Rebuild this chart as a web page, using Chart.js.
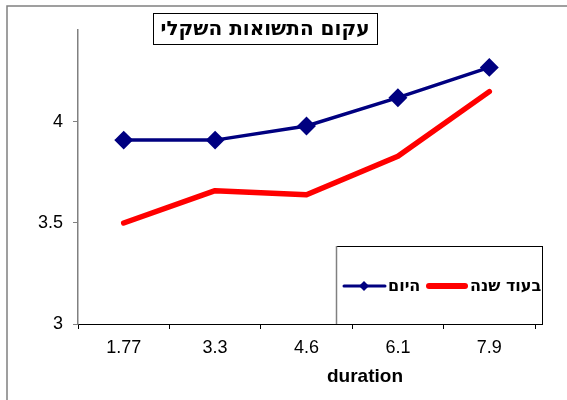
<!DOCTYPE html>
<html>
<head>
<meta charset="utf-8">
<script src="https://cdn.jsdelivr.net/npm/chart.js"></script>
<style>
  body { margin: 0; background: #fff; }
</style>
</head>
<body>
<canvas id="yieldChart" width="567" height="400"></canvas>
<script>
const categories = ["1.77", "3.3", "4.6", "6.1", "7.9"];
const todayValues = [3.91, 3.91, 3.98, 4.12, 4.27];
const nextYearValues = [3.50, 3.66, 3.64, 3.83, 4.15];
const yTicks = [3, 3.5, 4];
const seriesNames = ["היום", "בעוד שנה"];
const chartTitle = "עקום התשואות השקלי";
const xTitle = "duration";

const FONT = '"Liberation Sans", Arial, sans-serif';
const HEB_FONT = '"DejaVu Sans", "Liberation Sans", sans-serif';

// frame, title box, legend box and axis title (Excel-like placement)
const decorations = {
  id: "decorations",
  afterDraw(chart) {
    const ctx = chart.ctx;
    ctx.save();

    // outer frame (only top/left visible)
    ctx.strokeStyle = "#808080";
    ctx.lineWidth = 1.5;
    ctx.strokeRect(7, 6, 600, 420);

    // title box
    ctx.fillStyle = "#fff";
    ctx.fillRect(153, 13, 224, 31);
    ctx.strokeStyle = "#000";
    ctx.lineWidth = 1;
    ctx.strokeRect(153.5, 13.5, 224, 31);
    ctx.fillStyle = "#000";
    ctx.font = "bold 20px " + HEB_FONT;
    ctx.textAlign = "center";
    ctx.textBaseline = "middle";
    ctx.fillText(chartTitle, 265, 30);

    // axis title
    ctx.font = "bold 19px " + FONT;
    ctx.fillText(xTitle, 365, 377);

    // legend box
    const lx = 336, ly = 246, lw = 206, lh = 78;
    ctx.fillStyle = "#fff";
    ctx.fillRect(lx, ly, lw, lh);
    ctx.strokeStyle = "#000";
    ctx.lineWidth = 1;
    ctx.strokeRect(lx + 0.5, ly + 0.5, lw, lh);
    ctx.strokeStyle = "#808080";
    ctx.lineWidth = 1.5;
    ctx.beginPath();
    ctx.moveTo(lx + 0.5, ly);
    ctx.lineTo(lx + 0.5, ly + lh);
    ctx.stroke();

    ctx.beginPath();
    ctx.rect(lx, ly, lw + 1, lh);
    ctx.clip();

    const ds = chart.data.datasets;
    const midY = 286;
    ctx.font = "bold 16px " + HEB_FONT;
    ctx.textAlign = "left";
    ctx.textBaseline = "middle";

    // series 1 (with marker)
    ctx.strokeStyle = ds[0].borderColor;
    ctx.lineWidth = 3;
    ctx.lineCap = "round";
    ctx.beginPath();
    ctx.moveTo(344, midY);
    ctx.lineTo(385, midY);
    ctx.stroke();
    ctx.fillStyle = ds[0].borderColor;
    ctx.beginPath();
    ctx.moveTo(364, midY - 5);
    ctx.lineTo(369, midY);
    ctx.lineTo(364, midY + 5);
    ctx.lineTo(359, midY);
    ctx.closePath();
    ctx.fill();
    ctx.fillStyle = "#000";
    ctx.fillText(ds[0].label, 388, midY + 1);

    // series 2
    ctx.strokeStyle = ds[1].borderColor;
    ctx.lineWidth = 6;
    ctx.beginPath();
    ctx.moveTo(429, midY);
    ctx.lineTo(465, midY);
    ctx.stroke();
    ctx.fillStyle = "#000";
    ctx.fillText(ds[1].label, 470, midY + 1);

    ctx.restore();
  }
};

new Chart(document.getElementById("yieldChart").getContext("2d"), {
  type: "line",
  data: {
    labels: categories,
    datasets: [
      {
        label: seriesNames[0],
        data: todayValues,
        borderColor: "#000080",
        backgroundColor: "#000080",
        borderWidth: 3.5,
        pointStyle: "rectRot",
        pointRadius: 7,
        pointHoverRadius: 7,
        tension: 0,
      },
      {
        label: seriesNames[1],
        data: nextYearValues,
        borderColor: "#ff0000",
        backgroundColor: "#ff0000",
        borderWidth: 5.5,
        borderCapStyle: "round",
        borderJoinStyle: "round",
        pointRadius: 0,
        pointHoverRadius: 0,
        tension: 0,
      },
    ],
  },
  options: {
    responsive: false,
    animation: false,
    layout: { padding: { left: 0, top: 30, right: 32, bottom: 0 } },
    plugins: {
      legend: { display: false },
      title: { display: false },
      tooltip: { enabled: false },
    },
    scales: {
      x: {
        offset: true,
        afterFit: (axis) => { axis.height = 76; },
        border: { color: "#000", width: 1 },
        grid: {
          offset: true,
          drawOnChartArea: false,
          drawTicks: true,
          tickLength: 5,
          color: "#000",
        },
        ticks: {
          color: "#000",
          padding: 8,
          maxRotation: 0,
          font: { family: FONT, size: 18 },
        },
      },
      y: {
        min: 3,
        max: 4.455,
        afterFit: (axis) => { axis.width = 78; },
        afterBuildTicks: (axis) => {
          axis.ticks = yTicks.map((v) => ({ value: v }));
        },
        border: { color: "#808080", width: 1.5 },
        grid: {
          drawOnChartArea: false,
          drawTicks: true,
          tickLength: 5,
          color: "#808080",
        },
        ticks: {
          color: "#000",
          padding: 10,
          font: { family: FONT, size: 18 },
          callback: (v) => String(v),
        },
      },
    },
  },
  plugins: [decorations],
});
</script>
</body>
</html>
